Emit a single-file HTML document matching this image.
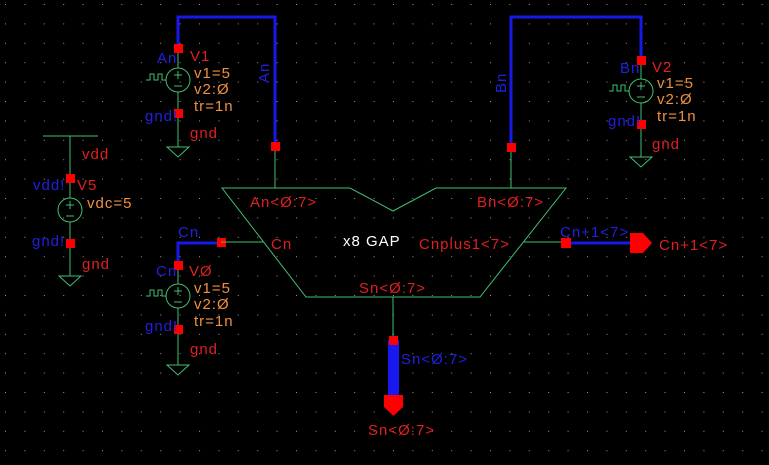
<!DOCTYPE html>
<html><head><style>
html,body{margin:0;padding:0;background:#000;}
svg{display:block;}
text{font-family:"Liberation Sans",sans-serif;font-size:15px;letter-spacing:1px;}
.r{fill:#e02020}.b{fill:#2020e0}.o{fill:#f09040}.w{fill:#fff}
.g{stroke:#40c070;stroke-width:1;fill:none}
.bw{stroke:#1818e8;stroke-width:3;fill:none}
</style></head><body>
<svg width="769" height="465" viewBox="0 0 769 465" xmlns="http://www.w3.org/2000/svg">
<defs>
<pattern id="dots" x="5" y="4" width="19.4" height="19.4" patternUnits="userSpaceOnUse">
<rect x="0" y="0" width="1" height="1" fill="#999"/>
</pattern>
<g id="circ">
<circle cx="0" cy="0" r="12" class="g"/>
<path d="M-4,-5h8M0,-9v8M-4,6h8" class="g"/>
</g>
<g id="src">
<use href="#circ"/>
<path d="M-32,0h4v-6h4v6h4v-6h4v6h4" class="g"/>
</g>
<g id="gnd"><path d="M-11,0h22l-11,10z" class="g"/></g>
</defs>
<rect width="769" height="465" fill="#000"/>
<rect width="769" height="465" fill="url(#dots)"/>

<!-- V1 -->
<path d="M178,49V17H275V146" class="bw"/>
<path d="M178,49V68M178,92V147M275,146V188" class="g"/>
<use href="#src" x="178" y="80"/>
<use href="#gnd" x="178" y="147"/>
<rect x="174" y="44" width="9" height="9" fill="#f00"/>
<rect x="174" y="109" width="9" height="9" fill="#f00"/>
<rect x="271" y="142" width="9" height="9" fill="#f00"/>
<text x="157" y="63" class="b">An</text>
<text x="190" y="61" class="r">V1</text>
<text x="194" y="78" class="o">v1=5</text>
<text x="194" y="94" class="o">v2:Ø</text>
<text x="194" y="111" class="o">tr=1n</text>
<text x="145" y="121" class="b">gnd!</text>
<text x="190" y="138" class="r">gnd</text>
<text transform="translate(269,83) rotate(-90)" class="b">An</text>

<!-- V2 -->
<path d="M511,147V17H641V60" class="bw"/>
<path d="M641,60V79M641,103V157M511,147V188" class="g"/>
<use href="#src" x="641" y="91"/>
<use href="#gnd" x="641" y="157"/>
<rect x="637" y="56" width="9" height="9" fill="#f00"/>
<rect x="637" y="120" width="9" height="9" fill="#f00"/>
<rect x="507" y="143" width="9" height="9" fill="#f00"/>
<text x="620" y="73" class="b">Bn</text>
<text x="652" y="72" class="r">V2</text>
<text x="657" y="88" class="o">v1=5</text>
<text x="657" y="104" class="o">v2:Ø</text>
<text x="657" y="121" class="o">tr=1n</text>
<text x="608" y="126" class="b">gnd!</text>
<text x="652" y="149" class="r">gnd</text>
<text transform="translate(506,93) rotate(-90)" class="b">Bn</text>

<!-- V5 -->
<path d="M43,136H98M70,136V198M70,222V276" class="g"/>
<use href="#circ" x="70" y="210"/>
<use href="#gnd" x="70" y="276"/>
<rect x="66" y="174" width="9" height="9" fill="#f00"/>
<rect x="66" y="239" width="9" height="9" fill="#f00"/>
<text x="82" y="159" class="r">vdd</text>
<text x="33" y="190" class="b">vdd!</text>
<text x="77" y="190" class="r">V5</text>
<text x="87" y="208" class="o">vdc=5</text>
<text x="32" y="246" class="b">gnd!</text>
<text x="82" y="269" class="r">gnd</text>

<!-- V0 -->
<path d="M178,266V243H221" class="bw"/>
<path d="M178,266V284M178,308V365" class="g"/>
<use href="#src" x="178" y="296"/>
<use href="#gnd" x="178" y="365"/>
<rect x="174" y="261" width="9" height="9" fill="#f00"/>
<rect x="174" y="325" width="9" height="9" fill="#f00"/>
<rect x="217" y="238" width="9" height="9" fill="#f00"/>
<text x="178" y="237" class="b">Cn</text>
<text x="156" y="276" class="b">Cn</text>
<text x="189" y="276" class="r">VØ</text>
<text x="194" y="293" class="o">v1=5</text>
<text x="194" y="309" class="o">v2:Ø</text>
<text x="194" y="326" class="o">tr=1n</text>
<text x="145" y="331" class="b">gnd!</text>
<text x="190" y="354" class="r">gnd</text>

<!-- GAP -->
<path d="M222,188H350L393,211L436,188H566L480,297H306Z" class="g"/>
<path d="M221,242H264M523,242H565M393,297V340" class="g"/>
<text x="250" y="207" class="r">An&lt;Ø:7&gt;</text>
<text x="477" y="207" class="r">Bn&lt;Ø:7&gt;</text>
<text x="271" y="249" class="r">Cn</text>
<text x="343" y="246" class="w">x8 GAP</text>
<text x="419" y="249" class="r">Cnplus1&lt;7&gt;</text>
<text x="359" y="293" class="r">Sn&lt;Ø:7&gt;</text>

<!-- Cn+1 output -->
<path d="M565,243H632" class="bw"/>
<rect x="561" y="238" width="10" height="10" fill="#f00"/>
<path d="M630,233H643L652,243L643,253H630Z" fill="#f00"/>
<text x="560" y="237" class="b">Cn+1&lt;7&gt;</text>
<text x="659" y="250" class="r">Cn+1&lt;7&gt;</text>

<!-- Sn output -->
<rect x="388" y="340" width="11" height="56" fill="#1818f0"/>
<rect x="389" y="336" width="9" height="9" fill="#f00"/>
<path d="M384,395H403V407L393.5,416L384,407Z" fill="#f00"/>
<text x="401" y="364" class="b">Sn&lt;Ø:7&gt;</text>
<text x="368" y="435" class="r">Sn&lt;Ø:7&gt;</text>
</svg>
</body></html>
